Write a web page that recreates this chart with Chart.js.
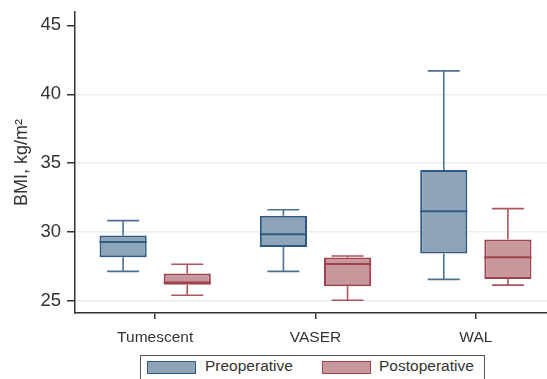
<!DOCTYPE html>
<html>
<head>
<meta charset="utf-8">
<script src="https://cdn.jsdelivr.net/npm/chart.js@4"></script>
<style>
  html, body { margin:0; padding:0; background:#fff; overflow:hidden; }
  #wrap { position:relative; width:556px; height:379px; }
  #legend {
    position:absolute; left:140px; top:355px; width:345px; height:30px;
    border:1px solid #555; box-sizing:border-box; background:#fff;
    font-family:"Liberation Sans", Arial, sans-serif; font-size:15.5px; color:#333;
  }
  .sw { position:absolute; top:5px; width:47px; height:11px; border:1.5px solid; }
  .lb { position:absolute; top:1px; }
</style>
</head>
<body>
<div id="wrap">
  <canvas id="c" width="556" height="379"></canvas>
  <div id="legend">
    <div class="sw" style="left:6px;background:#8ea4b8;border-color:#2e5a83"></div>
    <div class="lb" style="left:64px">Preoperative</div>
    <div class="sw" style="left:181px;background:#c9989c;border-color:#a0424c"></div>
    <div class="lb" style="left:238px">Postoperative</div>
  </div>
</div>
<script>
// ─── Data ────────────────────────────────────────────
const groups   = ['Tumescent', 'VASER', 'WAL'];
const yTicks   = [25, 30, 35, 40, 45];

// min, q1, median, q3, max
const preMin = [27.15, 27.15, 26.57];
const preQ1  = [28.18, 28.92, 28.45];
const preMed = [29.29, 29.85, 31.51];
const preQ3  = [29.76, 31.18, 34.50];
const preMax = [30.83, 31.62, 41.70];

const postMin = [25.42, 25.06, 26.15];
const postQ1  = [26.18, 26.08, 26.59];
const postMed = [26.35, 27.69, 28.18];
const postQ3  = [27.00, 28.15, 29.47];
const postMax = [27.67, 28.27, 31.70];

const series = [
  { label:'Preoperative',  min:preMin,  q1:preQ1,  med:preMed,  q3:preQ3,  max:preMax,
    fill:'#8ea4b8', line:'#2e5a83', whisk:'#4d7193' },
  { label:'Postoperative', min:postMin, q1:postQ1, med:postMed, q3:postQ3, max:postMax,
    fill:'#c9989c', line:'#a0424c', whisk:'#ad545d' },
];

// ─── Whiskers + medians ──────────────────────────────
const boxParts = {
  id: 'boxParts',
  beforeDatasetsDraw(chart) {
    const { ctx, scales: { y } } = chart;
    series.forEach((s, di) => {
      const meta = chart.getDatasetMeta(di);
      meta.data.forEach((bar, i) => {
        const x = bar.x, cap = 16;
        ctx.save();
        ctx.strokeStyle = s.whisk;
        ctx.lineWidth = 1.6;
        ctx.beginPath();
        ctx.moveTo(x, y.getPixelForValue(s.q3[i]));
        ctx.lineTo(x, y.getPixelForValue(s.max[i]));
        ctx.moveTo(x - cap, y.getPixelForValue(s.max[i]));
        ctx.lineTo(x + cap, y.getPixelForValue(s.max[i]));
        ctx.moveTo(x, y.getPixelForValue(s.q1[i]));
        ctx.lineTo(x, y.getPixelForValue(s.min[i]));
        ctx.moveTo(x - cap, y.getPixelForValue(s.min[i]));
        ctx.lineTo(x + cap, y.getPixelForValue(s.min[i]));
        ctx.stroke();
        ctx.restore();
      });
    });
  },
  afterDatasetsDraw(chart) {
    const { ctx, scales: { y } } = chart;
    series.forEach((s, di) => {
      const meta = chart.getDatasetMeta(di);
      meta.data.forEach((bar, i) => {
        const half = bar.width / 2;
        const py = y.getPixelForValue(s.med[i]);
        ctx.save();
        ctx.strokeStyle = s.line;
        ctx.lineWidth = 2;
        ctx.beginPath();
        ctx.moveTo(bar.x - half, py);
        ctx.lineTo(bar.x + half, py);
        ctx.stroke();
        ctx.restore();
      });
    });
  }
};

const FONT = 'Liberation Sans';

new Chart(document.getElementById('c'), {
  type: 'bar',
  data: {
    labels: groups,
    datasets: series.map(s => ({
      label: s.label,
      data: s.q1.map((v, i) => [v, s.q3[i]]),
      backgroundColor: s.fill,
      borderColor: s.line,
      borderWidth: 2,
      borderSkipped: false,
      categoryPercentage: 0.8,
      barPercentage: 0.735,
    })),
  },
  options: {
    responsive: false,
    animation: false,
    layout: { padding: { top: 12, right: 0, bottom: 26, left: 0 } },
    plugins: { legend: { display: false }, tooltip: { enabled: false } },
    scales: {
      x: {
        afterFit: sc => { sc.height = 40; sc.paddingLeft = 0; sc.paddingRight = 0; },
        grid: { offset: false, drawOnChartArea: false, tickLength: 6, color: '#333', lineWidth: 1.5 },
        border: { color: '#333', width: 1.5 },
        ticks: { color: '#333', font: { family: FONT, size: 15.5 }, padding: 9 },
      },
      y: {
        min: 24.13, max: 45.97,
        afterFit: sc => { sc.width = 75; sc.paddingTop = 0; sc.paddingBottom = 0; },
        afterBuildTicks: sc => { sc.ticks = yTicks.map(v => ({ value: v })); },
        grid: {
          color: ctx => (ctx.tick && ctx.tick.value === 45) ? 'rgba(0,0,0,0)' : '#e9eff1',
          lineWidth: 1.5, tickLength: 8, tickColor: '#333', drawTicks: true,
        },
        border: { color: '#333', width: 1.5 },
        ticks: { color: '#333', font: { family: FONT, size: 18.5 }, padding: 6 },
        title: { display: true, text: 'BMI, kg/m\u00B2', color: '#333',
                 font: { family: FONT, size: 18 }, padding: { top: 11, bottom: 0 } },
      },
    },
  },
  plugins: [boxParts],
});
</script>
</body>
</html>
